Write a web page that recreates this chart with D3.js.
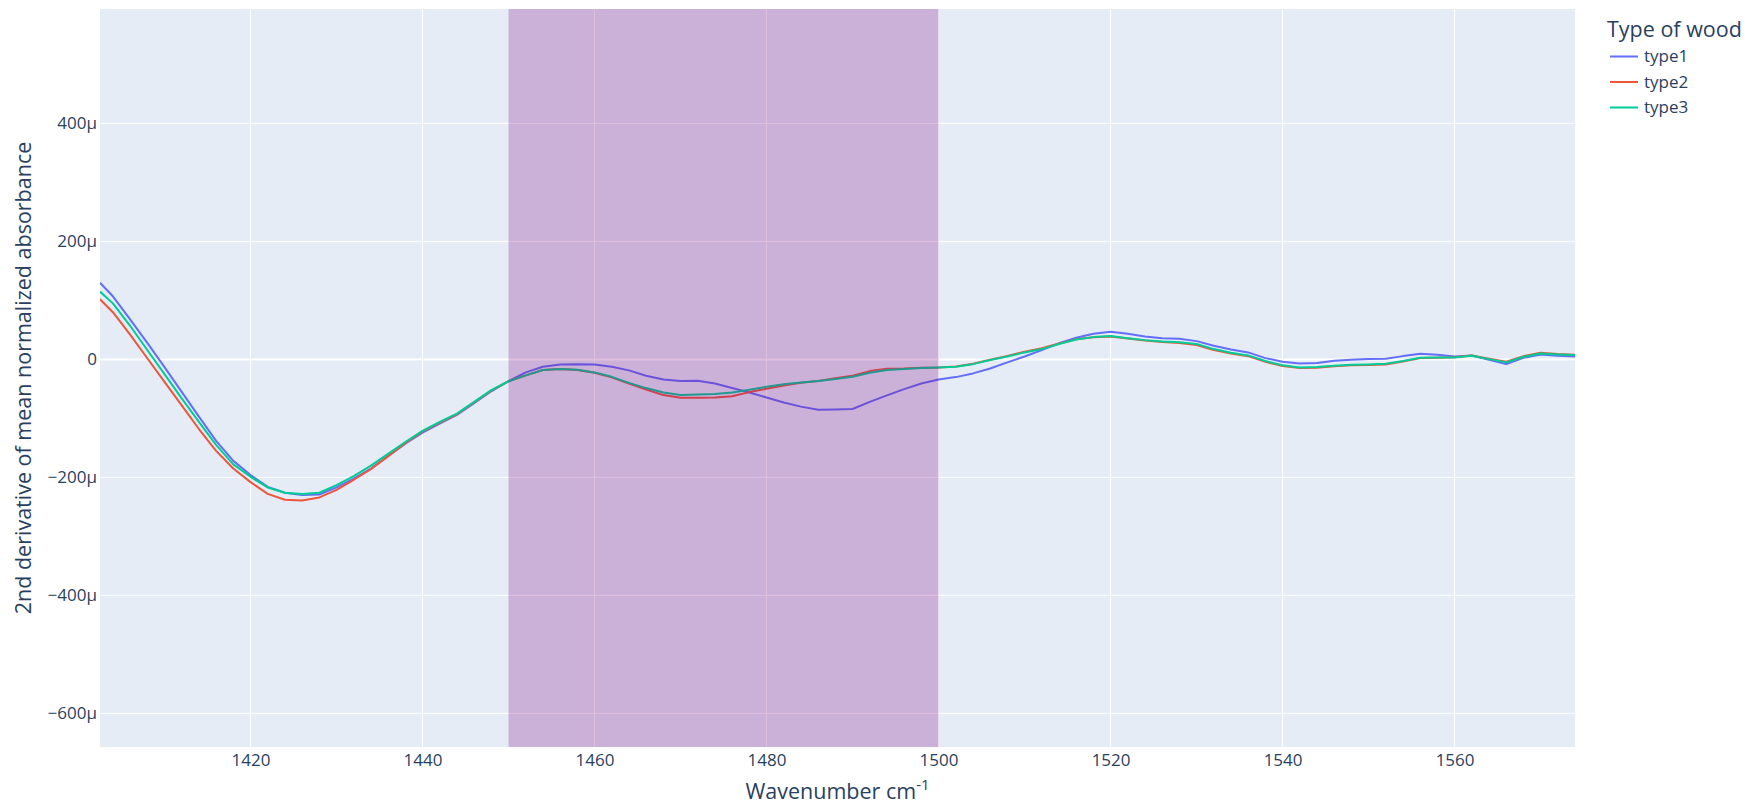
<!DOCTYPE html>
<html>
<head>
<meta charset="utf-8">
<script src="https://cdn.jsdelivr.net/npm/d3@7"></script>
<style>
  body { margin: 0; background: #fff; }
  svg { font-family: "Open Sans", verdana, arial, sans-serif; }
</style>
</head>
<body>
<svg width="1745" height="804"></svg>
<script>
// wavenumbers (cm-1) and the three mean 2nd derivative spectra, values in micro units
var wavenumber = [1402.5, 1404, 1406, 1408, 1410, 1412, 1414, 1416, 1418, 1420,
  1422, 1424, 1426, 1428, 1430, 1432, 1434, 1436, 1438, 1440,
  1442, 1444, 1446, 1448, 1450, 1452, 1454, 1456, 1458, 1460,
  1462, 1464, 1466, 1468, 1470, 1472, 1474, 1476, 1478, 1480,
  1482, 1484, 1486, 1488, 1490, 1492, 1494, 1496, 1498, 1500,
  1502, 1504, 1506, 1508, 1510, 1512, 1514, 1516, 1518, 1520,
  1522, 1524, 1526, 1528, 1530, 1532, 1534, 1536, 1538, 1540,
  1542, 1544, 1546, 1548, 1550, 1552, 1554, 1556, 1558, 1560,
  1562, 1564, 1566, 1568, 1570, 1572, 1574];

var type1 = [130, 107, 68, 28, -13, -55, -97, -138, -172, -196,
  -216, -226, -230, -229, -217, -202, -185, -164, -143, -124,
  -109, -94, -74, -54, -37, -22, -12.5, -8.5, -8, -8.5,
  -12.5, -18.6, -27.8, -34, -36.7, -36, -40.7, -48.6, -56, -64.5,
  -73, -80, -85.4, -85, -84, -72, -61, -50.3, -40.7, -34,
  -30, -23.7, -15.3, -5, 5, 15.8, 27.3, 36.7, 43.4, 46.8,
  43.4, 39, 36, 35, 31, 23.1, 16.9, 11.9, 2.2, -4,
  -6.8, -6.2, -2.3, -0.5, 0.5, 1, 5.6, 9.5, 7.8, 5,
  6.8, -0.6, -8, 2.8, 8.5, 6.2, 5];

var type2 = [102, 80, 42, 2, -38, -78, -118, -155, -185, -208,
  -228, -238, -239, -234, -221, -204, -186, -164, -142, -122,
  -107, -93, -73, -53, -37, -27, -18, -16.4, -18, -22.5,
  -30.5, -41, -51, -60.5, -65, -65, -64.5, -62.5, -55.4, -49.8,
  -44.2, -39.7, -36.7, -32, -27.8, -19.8, -16, -15.5, -14, -13.5,
  -12, -7.5, -0.5, 6, 13, 19, 27, 34, 37.5, 39,
  35.5, 32, 29.5, 28, 24.5, 16, 10, 5.5, -4, -11,
  -14.5, -14, -11.5, -10, -9.5, -8.5, -3.5, 2.5, 3, 3.5,
  6.5, 1, -4, 5.5, 11.5, 9, 8];

var type3 = [115, 95, 57, 16, -25, -66, -106, -145, -178, -199,
  -217, -226, -228, -226, -213, -198, -180, -160, -140, -121,
  -106, -92, -72, -52, -37, -27, -18, -16.4, -17.6, -22,
  -29.5, -39.7, -48.6, -56, -60.5, -59.5, -58.5, -56, -51.6, -46.4,
  -42, -39, -36.7, -33, -29.5, -22.7, -18, -16.4, -14.7, -13.6,
  -12.5, -8, -1.1, 5, 11.9, 17.5, 26, 33.9, 37.8, 39.5,
  36, 32.7, 30.5, 29.3, 26, 17.5, 11.2, 6.8, -2.8, -10,
  -13.6, -13, -10.8, -9.2, -8.5, -7.5, -2.8, 2.8, 3.4, 3.4,
  6.2, 0.5, -5, 4.5, 10, 8.5, 7.3];

var seriesNames = ["type1", "type2", "type3"];
var seriesColors = ["#636efa", "#EF553B", "#00cc96"];
var xTicks = [1420, 1440, 1460, 1480, 1500, 1520, 1540, 1560];
var yTicks = [-600, -400, -200, 0, 200, 400];
var band = [1450, 1500];

var series = [type1, type2, type3].map(function(vals, i) {
  return {
    name: seriesNames[i],
    color: seriesColors[i],
    points: vals.map(function(v, j) { return {x: wavenumber[j], y: v}; })
  };
});

var textColor = "#2a3f5f";

var svg = d3.select("svg"),
    margin = {top: 9, right: 170, bottom: 57, left: 100},
    width = +svg.attr("width") - margin.left - margin.right,
    height = +svg.attr("height") - margin.top - margin.bottom;

var x = d3.scaleLinear().domain([1402.5, 1574]).range([0, width]),
    y = d3.scaleLinear().domain([-657, 594]).range([height, 0]);

var g = svg.append("g")
    .attr("transform", "translate(" + margin.left + "," + margin.top + ")");

// plot background
g.append("rect")
    .attr("width", width)
    .attr("height", height)
    .attr("fill", "#E5ECF6");

// grid
g.selectAll(".xgrid").data(xTicks).enter().append("line")
    .attr("x1", function(d) { return x(d); })
    .attr("x2", function(d) { return x(d); })
    .attr("y1", 0).attr("y2", height)
    .attr("stroke", "#fff").attr("stroke-width", 1);

g.selectAll(".ygrid").data(yTicks).enter().append("line")
    .attr("x1", 0).attr("x2", width)
    .attr("y1", function(d) { return y(d); })
    .attr("y2", function(d) { return y(d); })
    .attr("stroke", "#fff")
    .attr("stroke-width", function(d) { return d === 0 ? 2 : 1; });

// axes, only the labels
function fmtY(d) {
  if (d === 0) return "0";
  return (d < 0 ? "\u2212" : "") + Math.abs(d) + "\u03bc";
}

var xAxis = g.append("g")
    .attr("transform", "translate(0," + height + ")")
    .call(d3.axisBottom(x).tickValues(xTicks).tickSize(0).tickPadding(7).tickFormat(d3.format("d")));

var yAxis = g.append("g")
    .call(d3.axisLeft(y).tickValues(yTicks).tickSize(0).tickPadding(3).tickFormat(fmtY));

[xAxis, yAxis].forEach(function(a) {
  a.select(".domain").remove();
  a.selectAll("text")
      .attr("fill", textColor)
      .style("font-size", "17px")
      .style("font-family", "'Open Sans', verdana, arial, sans-serif");
});

// lines
g.append("clipPath").attr("id", "clip")
  .append("rect").attr("width", width).attr("height", height);

var line = d3.line()
    .x(function(d) { return x(d.x); })
    .y(function(d) { return y(d.y); });

g.append("g").attr("clip-path", "url(#clip)")
  .selectAll("path").data(series).enter().append("path")
    .attr("d", function(d) { return line(d.points); })
    .attr("fill", "none")
    .attr("stroke", function(d) { return d.color; })
    .attr("stroke-width", 2)
    .attr("stroke-linejoin", "round");

// highlighted band, on top of the traces
g.append("rect")
    .attr("x", x(band[0]))
    .attr("width", x(band[1]) - x(band[0]))
    .attr("y", 0)
    .attr("height", height)
    .attr("fill", "purple")
    .attr("opacity", 0.25);

// axis titles
var xt = svg.append("text")
    .attr("x", margin.left + width / 2)
    .attr("y", 799)
    .attr("text-anchor", "middle")
    .attr("fill", textColor)
    .style("font-size", "21.5px");
xt.append("tspan").text("Wavenumber cm");
xt.append("tspan").attr("dy", "-0.6em").style("font-size", "15px").text("-1");

svg.append("text")
    .attr("transform", "translate(31," + (margin.top + height / 2) + ") rotate(-90)")
    .attr("text-anchor", "middle")
    .attr("fill", textColor)
    .style("font-size", "21.5px")
    .text("2nd derivative of mean normalized absorbance");

// legend
var legend = svg.append("g").attr("transform", "translate(1607,0)");

legend.append("text")
    .attr("x", 0).attr("y", 37)
    .attr("fill", textColor)
    .style("font-size", "21.5px")
    .text("Type of wood");

var item = legend.selectAll(".item").data(series).enter().append("g")
    .attr("transform", function(d, i) { return "translate(0," + (56.5 + i * 25.5) + ")"; });

item.append("line")
    .attr("x1", 3).attr("x2", 31)
    .attr("stroke", function(d) { return d.color; })
    .attr("stroke-width", 2);

item.append("text")
    .attr("x", 37).attr("dy", "0.35em")
    .attr("fill", textColor)
    .style("font-size", "17px")
    .text(function(d) { return d.name; });
</script>
</body>
</html>
